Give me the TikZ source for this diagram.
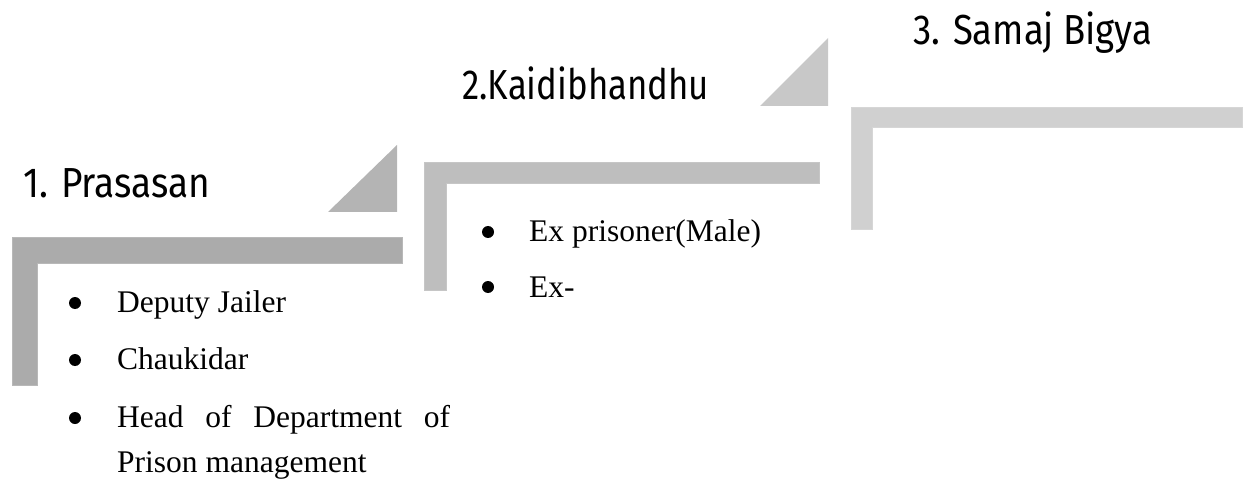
\documentclass[tikz,border=0pt]{standalone}
\usepackage{fontspec}
\usepackage{graphicx}
\setmainfont{Liberation Serif}
\newfontfamily\headfont{Fira Sans}
\begin{document}
\begin{tikzpicture}[x=1pt,y=-1pt,
  stepone/.style={fill=gray1,draw=gray1e,line width=1pt},
  steptwo/.style={fill=gray2,draw=gray2e,line width=1pt},
  stepthree/.style={fill=gray3,draw=gray3e,line width=1pt},
  head/.style={anchor=base west,inner sep=0pt,font=\headfont\fontsize{42}{50}\selectfont},
  item/.style={anchor=base west,inner sep=0pt,font=\fontsize{31.5}{38}\selectfont},
  dot/.style={circle,fill=black,inner sep=0pt,minimum size=12pt}]
\definecolor{gray1}{HTML}{ABABAB}\definecolor{gray1e}{HTML}{B8B8B8}
\definecolor{tri1}{HTML}{B4B4B4}
\definecolor{gray2}{HTML}{BEBEBE}\definecolor{gray2e}{HTML}{C6C6C6}
\definecolor{tri2}{HTML}{C8C8C8}
\definecolor{gray3}{HTML}{D0D0D0}\definecolor{gray3e}{HTML}{D6D6D6}
\useasboundingbox (0,0) rectangle (1249,486);

% step 1
\fill[tri1] (328,212) -- (397,212) -- (397,145) -- cycle;
\path[stepone] (12,238) -- (402,238) -- (402,263) -- (37,263) -- (37,385) -- (12,385) -- cycle;
% step 2
\fill[tri2] (760,106) -- (828,106) -- (828,38) -- cycle;
\path[steptwo] (424,163) -- (819,163) -- (819,184) -- (446,184) -- (446,290) -- (424,290) -- cycle;
% step 3
\path[stepthree] (851,108) -- (1242,108) -- (1242,128) -- (872,128) -- (872,230) -- (851,230) -- cycle;

% headings
\node[head] (h1) at (23,198) {\resizebox{187pt}{\height}{1. Prasasan}};
\node[head] (h2) at (462,100) {\resizebox{247pt}{\height}{2.Kaidibhandhu}};
\node[head] (h3) at (913,45) {\resizebox{239pt}{\height}{3. Samaj Bigya}};

% list under step 1
\node[dot] (b1) at (75,303) {};
\node[item] (t1) at (117,312) {Deputy Jailer};
\node[dot] (b2) at (75,360) {};
\node[item] (t2) at (117,369) {Chaukidar};
\node[dot] (b3) at (75,418) {};
\node[item] (t3) at (117,427) {\hbox to 333pt{Head\hfil\ of\hfil\ Department\hfil\ of}};
\node[item] (t3b) at (117,472) {Prison management};

% list under step 2
\node[dot] (b4) at (488,232) {};
\node[item] (t4) at (529,242) {Ex prisoner(Male)};
\node[dot] (b5) at (488,287) {};
\node[item] (t5) at (529,297) {Ex-};
\end{tikzpicture}
\end{document}
